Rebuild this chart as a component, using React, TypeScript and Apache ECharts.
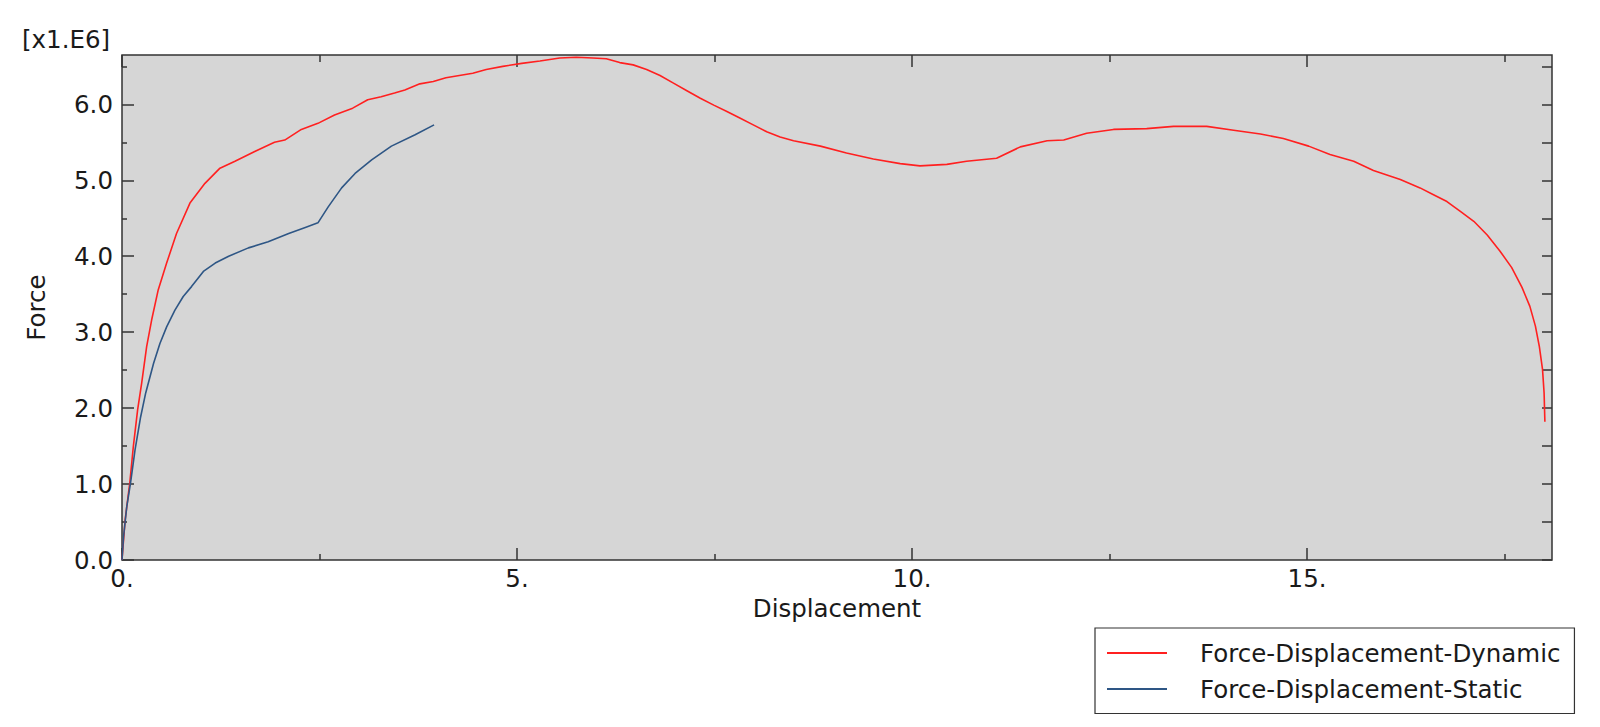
import React, { useEffect, useRef } from "react";
import * as echarts from "echarts";

// ---- data (displacement, force in 1e6 units) ----
const dynamicX = [
  0, 0.04, 0.1, 0.143, 0.198, 0.249, 0.312, 0.375, 0.459, 0.565, 0.69, 0.86, 1.05, 1.24, 1.43, 1.68,
  1.93, 2.06, 2.27, 2.48, 2.69, 2.92, 3.11, 3.28, 3.45, 3.58, 3.77, 3.94, 4.1, 4.27, 4.44, 4.61,
  4.82, 5.06, 5.29, 5.54, 5.75, 5.96, 6.13, 6.3, 6.47, 6.64, 6.81, 6.98, 7.15, 7.32, 7.49, 7.65,
  7.82, 7.99, 8.16, 8.33, 8.5, 8.84, 9.17, 9.51, 9.85, 10.1, 10.44, 10.69, 11.07, 11.37, 11.71,
  11.92, 12.21, 12.55, 12.97, 13.31, 13.73, 14.07, 14.41, 14.7, 15.02, 15.29, 15.59, 15.84, 16.18,
  16.43, 16.6, 16.77, 16.94, 17.11, 17.28, 17.44, 17.59, 17.72, 17.82, 17.89, 17.94, 17.98, 18.0,
  18.01,
];
const dynamicY = [
  0, 0.53, 1.03, 1.49, 1.98, 2.33, 2.81, 3.16, 3.56, 3.91, 4.3, 4.7, 4.96, 5.16, 5.25, 5.38,
  5.5, 5.53, 5.67, 5.75, 5.86, 5.95, 6.06, 6.1, 6.15, 6.19, 6.27, 6.3, 6.35, 6.38, 6.41, 6.46,
  6.5, 6.54, 6.57, 6.61, 6.62, 6.61, 6.6, 6.55, 6.52, 6.46, 6.38, 6.28, 6.18, 6.08, 5.99, 5.91,
  5.82, 5.73, 5.64, 5.57, 5.52, 5.45, 5.36, 5.28, 5.22, 5.19, 5.21, 5.25, 5.29, 5.44, 5.52,
  5.53, 5.62, 5.67, 5.68, 5.71, 5.71, 5.66, 5.61, 5.55, 5.45, 5.34, 5.25, 5.13, 5.01,
  4.9, 4.81, 4.72, 4.59, 4.46, 4.28, 4.07, 3.85, 3.59, 3.34, 3.08, 2.81, 2.51, 2.2,
  1.82,
];
const staticX = [
  0, 0.02, 0.06, 0.11, 0.165, 0.235, 0.3, 0.4, 0.48, 0.565, 0.67, 0.775, 0.88, 1.03, 1.18, 1.35,
  1.6, 1.85, 2.11, 2.32, 2.48, 2.61, 2.78, 2.95, 3.16, 3.41, 3.71, 3.95,
];
const staticY = [
  0, 0.31, 0.7, 1.03, 1.45, 1.88, 2.2, 2.59, 2.85, 3.07, 3.29, 3.47, 3.6, 3.8, 3.91, 4.0,
  4.11, 4.19, 4.3, 4.38, 4.44, 4.65, 4.9, 5.09, 5.27, 5.45, 5.6, 5.73,
];

const seriesNames = ["Force-Displacement-Dynamic", "Force-Displacement-Static"];
const xMajorTicks = [0, 5, 10, 15];
const xMinorTicks = [2.5, 7.5, 12.5, 17.5];
const yMajorTicks = [0, 1, 2, 3, 4, 5, 6];
const yMinorTicks = [0.5, 1.5, 2.5, 3.5, 4.5, 5.5, 6.5];
const yRightTicks = [0, 0.5, 1, 1.5, 2, 2.5, 3, 3.5, 4, 4.5, 5, 5.5, 6, 6.5];
const X_MAX = 18.1;
const Y_MAX = 6.65;

const FONT = "DejaVu Sans";
const TEXT = "#1a1a1a";
const FRAME = "#333333";
const FS = 24.5;

function xAx(position: string, ticks: number[], len: number, extra: any = {}) {
  return {
    type: "value",
    position,
    min: 0,
    max: X_MAX,
    axisLine: { show: false, onZero: false },
    splitLine: { show: false },
    axisLabel: { show: false },
    axisTick: { show: true, inside: true, length: len, customValues: ticks, lineStyle: { color: FRAME, width: 1.5 } },
    ...extra,
  };
}
function yAx(position: string, ticks: number[], len: number, extra: any = {}) {
  return {
    type: "value",
    position,
    min: 0,
    max: Y_MAX,
    axisLine: { show: false, onZero: false },
    splitLine: { show: false },
    axisLabel: { show: false },
    axisTick: { show: true, inside: true, length: len, customValues: ticks, lineStyle: { color: FRAME, width: 1.5 } },
    ...extra,
  };
}

export default function App() {
  const ref = useRef<HTMLDivElement>(null);
  useEffect(() => {
    if (!ref.current) return;
    const chart = echarts.init(ref.current, null, { renderer: "svg" });
    const dyn = dynamicX.map((x, i) => [x, dynamicY[i]]);
    const sta = staticX.map((x, i) => [x, staticY[i]]);
    chart.setOption({
      animation: false,
      backgroundColor: "#ffffff",
      grid: {
        left: 122,
        right: 48,
        top: 55,
        bottom: 167,
        show: true,
        backgroundColor: "#d6d6d6",
        borderColor: FRAME,
        borderWidth: 1.5,
        outerBoundsMode: "none",
      },
      xAxis: [
        xAx("bottom", xMajorTicks, 12, {
          axisLabel: {
            show: true,
            customValues: xMajorTicks,
            formatter: (v: number) => `${v}.`,
            margin: 6,
            fontSize: FS,
            fontFamily: FONT,
            color: TEXT,
          },
          name: "Displacement",
          nameLocation: "middle",
          nameGap: 33,
          nameTextStyle: { fontSize: FS, fontFamily: FONT, color: TEXT },
        }),
        xAx("bottom", xMinorTicks, 6),
        xAx("top", xMajorTicks, 12),
        xAx("top", xMinorTicks, 7),
      ],
      yAxis: [
        yAx("left", yMajorTicks, 12, {
          axisLabel: {
            show: true,
            customValues: yMajorTicks,
            formatter: (v: number) => v.toFixed(1),
            margin: 9,
            fontSize: FS,
            fontFamily: FONT,
            color: TEXT,
          },
          name: "Force",
          nameLocation: "middle",
          nameGap: 73,
          nameTextStyle: { fontSize: FS, fontFamily: FONT, color: TEXT },
        }),
        yAx("left", yMinorTicks, 5),
        yAx("right", yRightTicks, 10),
      ],
      legend: {
        orient: "vertical",
        left: 1095,
        top: 628,
        padding: [12.5, 14, 12, 12],
        itemGap: 11,
        itemWidth: 60,
        itemHeight: 2,
        icon: "rect",
        borderColor: FRAME,
        borderWidth: 1.2,
        backgroundColor: "#ffffff",
        selectedMode: false,
        textStyle: { fontSize: FS, fontFamily: FONT, color: TEXT, lineHeight: 24, padding: [0, 0, 0, 28] },
        data: seriesNames,
      },
      graphic: [
        {
          type: "text",
          left: 22,
          top: 27,
          style: { text: "[x1.E6]", fontSize: FS, fontFamily: FONT, fill: TEXT },
        },
      ],
      series: [
        {
          name: seriesNames[0],
          type: "line",
          data: dyn,
          xAxisIndex: 0,
          yAxisIndex: 0,
          showSymbol: false,
          symbol: "none",
          lineStyle: { color: "#ff2020", width: 1.6 },
          itemStyle: { color: "#ff2020" },
        },
        {
          name: seriesNames[1],
          type: "line",
          data: sta,
          xAxisIndex: 0,
          yAxisIndex: 0,
          showSymbol: false,
          symbol: "none",
          lineStyle: { color: "#2e5685", width: 1.6 },
          itemStyle: { color: "#2e5685" },
        },
      ],
    });
    return () => chart.dispose();
  }, []);
  return <div ref={ref} style={{ position: "absolute", left: 0, top: 0, width: 1600, height: 727 }} />;
}
